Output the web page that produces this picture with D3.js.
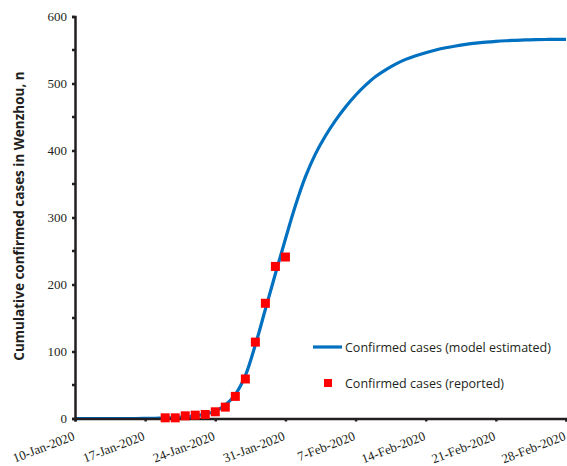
<!DOCTYPE html>
<html><head><meta charset="utf-8">
<script src="https://cdn.jsdelivr.net/npm/d3@7"></script>
<style>body{margin:0;background:#fff}svg{display:block}</style>
</head><body><svg id="c" width="567" height="466"></svg>
<script>
const startDate = "2020-01-10";
const endDate = "2020-02-28";
const tickLabels = ["10-Jan-2020","17-Jan-2020","24-Jan-2020","31-Jan-2020","7-Feb-2020","14-Feb-2020","21-Feb-2020","28-Feb-2020"];
const yTicks = [0,100,200,300,400,500,600];
// reported cumulative cases, 19-Jan to 31-Jan 2020
const reportedDates = ["2020-01-19","2020-01-20","2020-01-21","2020-01-22","2020-01-23","2020-01-24","2020-01-25","2020-01-26","2020-01-27","2020-01-28","2020-01-29","2020-01-30","2020-01-31"];
const reportedValues = [1,1,4,5,6,10,17,33,59,114,172,227,241];
// model estimated curve, read daily from 10-Jan to 28-Feb 2020
const modelValues = [0,0,0,0,0,0,0,0.1,0.3,0.7,1.3,2.3,4,6.5,11,20,36,64,110,163,216,268,318,361,395,422,445,465,482.5,497.5,510.5,520.5,529,536,541.5,546,550,553.3,556,558.3,560.2,561.7,562.9,563.8,564.5,565,565.4,565.7,565.9,566];

const parse = d3.timeParse("%Y-%m-%d");
const t0 = parse(startDate);
const modelData = modelValues.map((v,i)=>({date:d3.timeDay.offset(t0,i), v}));
const repData = reportedDates.map((d,i)=>({date:parse(d), v:reportedValues[i]}));

const svg = d3.select("#c");
const x = d3.scaleTime().domain([t0, parse(endDate)]).range([75, 566]);
const y = d3.scaleLinear().domain([0,600]).range([418.5, 16.5]);

const serif = "'Liberation Serif','Times New Roman',serif";
const sans = "'Open Sans','Noto Sans',sans-serif";

// model line
svg.append("path").datum(modelData)
  .attr("fill","none").attr("stroke","#0070C0").attr("stroke-width",3.2)
  .attr("d", d3.line().x(d=>x(d.date)).y(d=>y(d.v)).curve(d3.curveCatmullRom.alpha(0.5)));

// axes
const xTickDates = tickLabels.map((_,i)=>d3.timeDay.offset(t0,i*7));
const xAxis = d3.axisBottom(x).tickValues(xTickDates).tickSize(3).tickFormat((d,i)=>tickLabels[i]);
const gx = svg.append("g").attr("transform",`translate(0,${y(0)})`).call(xAxis);
gx.select(".domain").attr("stroke","#231f20").attr("stroke-width",2.5);
gx.selectAll(".tick line").attr("stroke","#231f20").attr("stroke-width",2.5);
gx.selectAll(".tick text")
  .attr("font-family",serif).attr("font-size",13).attr("fill","#231f20")
  .attr("text-anchor","end").attr("dy",0).attr("y",0)
  .attr("transform","translate(0,21) rotate(-21)");

const minor = d3.range(50,600,100);
const gy = svg.append("g").attr("transform",`translate(${x(t0)},0)`)
  .call(d3.axisLeft(y).tickValues(yTicks).tickSize(3).tickFormat(d3.format("d")));
gy.select(".domain").attr("stroke","#231f20").attr("stroke-width",2.5);
gy.selectAll(".tick line").attr("stroke","#231f20").attr("stroke-width",2.5);
gy.selectAll(".tick text").attr("font-family",serif).attr("font-size",13).attr("fill","#231f20").attr("x",-8);
svg.append("g").selectAll("line").data(minor).join("line")
  .attr("x1",x(t0)-3).attr("x2",x(t0)).attr("y1",d=>y(d)).attr("y2",d=>y(d))
  .attr("stroke","#231f20").attr("stroke-width",2.5);

// reported points
svg.append("g").selectAll("rect").data(repData).join("rect")
  .attr("x",d=>x(d.date)-4.5).attr("y",d=>y(d.v)-4.5)
  .attr("width",9).attr("height",9).attr("fill","#FF0000");

// y title
svg.append("text").attr("transform","translate(24,216) rotate(-90)")
  .attr("text-anchor","middle").attr("font-family",sans).attr("font-weight","bold")
  .attr("font-size",13.5).attr("fill","#231f20")
  .text("Cumulative confirmed cases in Wenzhou, n");

// legend
svg.append("line").attr("x1",313).attr("x2",342).attr("y1",347).attr("y2",347)
  .attr("stroke","#0070C0").attr("stroke-width",3.2);
svg.append("text").attr("x",345).attr("y",351.5).attr("font-family",sans).attr("font-size",12.5)
  .attr("fill","#231f20").text("Confirmed cases (model estimated)");
svg.append("rect").attr("x",324).attr("y",379).attr("width",8).attr("height",8).attr("fill","#FF0000");
svg.append("text").attr("x",345).attr("y",387.5).attr("font-family",sans).attr("font-size",12.5)
  .attr("fill","#231f20").text("Confirmed cases (reported)");
</script></body></html>
